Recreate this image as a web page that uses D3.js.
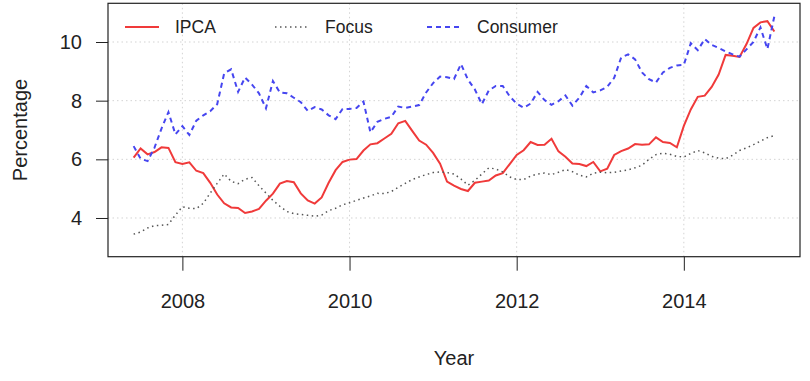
<!DOCTYPE html>
<html>
<head>
<meta charset="utf-8">
<script src="https://cdn.jsdelivr.net/npm/d3@7"></script>
<style>
  body { margin: 0; background: #fff; }
  text { font-family: "Liberation Sans", Arial, sans-serif; fill: #222; }
</style>
</head>
<body>
<div id="chart-area"></div>
<script>
// Data: monthly, Jun 2007 .. Feb 2015
const startYear = 2007, startMonth = 6
const ipca = [6.06, 6.37, 6.17, 6.25, 6.41, 6.39, 5.90,
  5.84, 5.90, 5.61, 5.53, 5.20, 4.80, 4.50, 4.36, 4.34, 4.17, 4.22, 4.31,
  4.59, 4.83, 5.17, 5.26, 5.22, 4.84, 4.60, 4.49, 4.70, 5.20, 5.63, 5.91,
  5.99, 6.01, 6.30, 6.51, 6.55, 6.71, 6.87, 7.23, 7.31, 6.97, 6.64, 6.50,
  6.22, 5.85, 5.24, 5.10, 4.99, 4.92, 5.20, 5.24, 5.28, 5.45, 5.53, 5.84,
  6.15, 6.31, 6.59, 6.49, 6.50, 6.70, 6.27, 6.09, 5.86, 5.84, 5.77, 5.91,
  5.59, 5.68, 6.15, 6.28, 6.37, 6.52, 6.50, 6.51, 6.75, 6.59, 6.56, 6.41,
  7.14, 7.70, 8.13, 8.17, 8.47, 8.89, 9.56, 9.53, 9.49, 9.93, 10.48, 10.67,
  10.71, 10.36]
const focus = [3.45, 3.52, 3.66, 3.74, 3.75, 3.78, 4.10,
  4.38, 4.33, 4.32, 4.50, 4.85, 5.18, 5.50, 5.25, 5.17, 5.32, 5.38, 5.10,
  4.85, 4.60, 4.40, 4.22, 4.15, 4.12, 4.09, 4.06, 4.10, 4.25, 4.33, 4.45,
  4.52, 4.60, 4.68, 4.75, 4.84, 4.83, 4.90, 5.05, 5.18, 5.31, 5.40, 5.48,
  5.55, 5.57, 5.55, 5.50, 5.33, 5.12, 5.28, 5.50, 5.71, 5.67, 5.57, 5.40,
  5.31, 5.31, 5.43, 5.50, 5.53, 5.48, 5.56, 5.65, 5.58, 5.46, 5.40, 5.53,
  5.56, 5.54, 5.56, 5.60, 5.64, 5.71, 5.80, 6.00, 6.16, 6.21, 6.17, 6.10,
  6.08, 6.20, 6.30, 6.22, 6.10, 6.04, 6.02, 6.14, 6.30, 6.39, 6.50, 6.62,
  6.74, 6.81]
const consumer = [6.45, 6.02, 5.94, 6.40, 7.05, 7.61, 6.85,
  7.13, 6.83, 7.32, 7.50, 7.64, 7.88, 8.93, 9.07, 8.30, 8.79, 8.55, 8.25,
  7.74, 8.67, 8.28, 8.25, 8.10, 7.95, 7.65, 7.78, 7.70, 7.50, 7.37, 7.72,
  7.72, 7.75, 7.97, 6.92, 7.28, 7.38, 7.45, 7.80, 7.75, 7.80, 7.85, 8.28,
  8.60, 8.82, 8.80, 8.74, 9.25, 8.72, 8.38, 7.88, 8.35, 8.50, 8.50, 8.15,
  7.90, 7.76, 7.90, 8.30, 8.02, 7.86, 7.98, 8.18, 7.83, 8.10, 8.50, 8.28,
  8.35, 8.47, 8.78, 9.47, 9.58, 9.41, 8.96, 8.73, 8.62, 8.96, 9.12, 9.20,
  9.22, 9.96, 9.72, 10.10, 9.90, 9.80, 9.68, 9.58, 9.50, 9.75, 10.00, 10.50,
  9.76, 10.88]
const xTicks = [2008, 2010, 2012, 2014]
const yTicks = [4, 6, 8, 10]
const yLimits = [3, 11]
const seriesNames = ["IPCA", "Focus", "Consumer"]

// Config
const width = 810, height = 381
const box = {left: 108, right: 800, top: 3.3, bottom: 256.7}

const svg = d3.select("#chart-area")
  .append("svg")
    .attr("width", width)
    .attr("height", height)

svg.append("rect").attr("width", width).attr("height", height).attr("fill", "#fff")

const time = i => startYear + (startMonth - 1) / 12 + i / 12

// R style 4% padding around the data range
const pad = (lo, hi) => [lo - (hi - lo) * 0.04, hi + (hi - lo) * 0.04]
const x = d3.scaleLinear()
  .domain(pad(time(0), time(ipca.length - 1)))
  .range([box.left, box.right])
const y = d3.scaleLinear()
  .domain(pad(yLimits[0], yLimits[1]))
  .range([box.bottom, box.top])

// Grid
const grid = svg.append("g")
  .attr("stroke", "#d3d3d3").attr("stroke-width", 1).attr("stroke-dasharray", "1.5 3")
grid.selectAll(".gx").data(xTicks).join("line")
  .attr("x1", d => x(d)).attr("x2", d => x(d))
  .attr("y1", box.top).attr("y2", box.bottom)
grid.selectAll(".gy").data(yTicks).join("line")
  .attr("x1", box.left).attr("x2", box.right)
  .attr("y1", d => y(d)).attr("y2", d => y(d))

// Lines
const series = [
  {name: seriesNames[0], values: ipca, color: "#f03a3a", width: 2, dash: null},
  {name: seriesNames[1], values: focus, color: "#555", width: 1.5, dash: "1.5 3.5"},
  {name: seriesNames[2], values: consumer, color: "#4646f0", width: 2, dash: "5 4"}
]
const line = d3.line().x((d, i) => x(time(i))).y(d => y(d))

svg.selectAll(".series").data(series).join("path")
  .attr("class", "series")
  .attr("fill", "none")
  .attr("stroke", d => d.color)
  .attr("stroke-width", d => d.width)
  .attr("stroke-dasharray", d => d.dash)
  .attr("d", d => line(d.values))

// Axes
const xAxis = d3.axisBottom(x).tickValues(xTicks).tickFormat(d3.format("d"))
  .tickSize(14).tickPadding(23)
const yAxis = d3.axisLeft(y).tickValues(yTicks).tickSize(12).tickPadding(14)

const x_axis = svg.append("g")
  .attr("transform", "translate(0, " + box.bottom + ")")
  .call(xAxis)
const y_axis = svg.append("g")
  .attr("transform", "translate(" + box.left + ", 0)")
  .call(yAxis)

for (const a of [x_axis, y_axis]) {
  a.select(".domain").remove()
  a.selectAll("line").attr("stroke", "#222")
  a.selectAll("text").style("font-size", "20px").style("font-family", "Liberation Sans, Arial, sans-serif").attr("fill", "#222")
}

// Box
svg.append("rect")
  .attr("x", box.left).attr("y", box.top)
  .attr("width", box.right - box.left).attr("height", box.bottom - box.top)
  .attr("fill", "none").attr("stroke", "#222").attr("stroke-width", 1.2)

// Labels
svg.append("text")
  .attr("x", (box.left + box.right) / 2).attr("y", 365)
  .attr("text-anchor", "middle").style("font-size", "20px")
  .text("Year")
svg.append("text")
  .attr("transform", "translate(27, " + (box.top + box.bottom) / 2 + ") rotate(-90)")
  .attr("text-anchor", "middle").style("font-size", "20px")
  .text("Percentage")

// Legend
const legendX = [125, 275, 427]
const legend = svg.selectAll(".legend").data(series).join("g")
  .attr("class", "legend")
  .attr("transform", (d, i) => "translate(" + legendX[i] + ", 27)")
legend.append("line")
  .attr("x1", 0).attr("x2", 34)
  .attr("stroke", d => d.color)
  .attr("stroke-width", d => d.width)
  .attr("stroke-dasharray", d => d.dash)
legend.append("text")
  .attr("x", 50).attr("dy", "0.36em")
  .style("font-size", "17.5px")
  .text(d => d.name)
</script>
</body>
</html>
